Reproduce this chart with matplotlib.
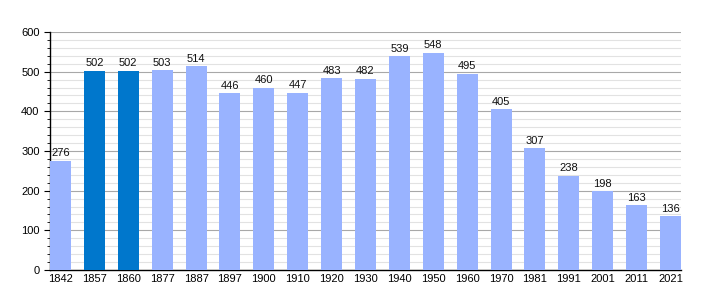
import matplotlib
matplotlib.use("Agg")
import matplotlib.pyplot as plt
from matplotlib.ticker import MultipleLocator

plt.rcParams["font.family"] = ["Liberation Sans", "DejaVu Sans"]

years = ["1842", "1857", "1860", "1877", "1887", "1897", "1900", "1910", "1920", "1930",
         "1940", "1950", "1960", "1970", "1981", "1991", "2001", "2011", "2021"]
population = [276, 502, 502, 503, 514, 446, 460, 447, 483, 482,
              539, 548, 495, 405, 307, 238, 198, 163, 136]
highlight = ["1857", "1860"]

light = "#99b3ff"
dark = "#0077cc"
colors = [dark if y in highlight else light for y in years]

fig = plt.figure(figsize=(7.1, 3.0), dpi=100)
ax = fig.add_axes([50/710, 30/300, 631/710, 238/300])
w = 0.62
x = list(range(len(years)))
ax.bar(x, population, width=w, color=colors, zorder=3)
for xi, v in zip(x, population):
    ax.text(xi, v + 6, str(v), ha="center", va="bottom", fontsize=8, color="#111111", zorder=4)

ax.set_xlim(-w/2, len(years) - 1 + w/2)
ax.set_ylim(0, 600)
ax.set_xticks(x)
ax.set_xticklabels(years, fontsize=8)
ax.yaxis.set_major_locator(MultipleLocator(100))
ax.yaxis.set_minor_locator(MultipleLocator(20))
ax.tick_params(axis="y", which="major", labelsize=8, length=4)
ax.tick_params(axis="y", which="minor", length=2)
ax.tick_params(axis="x", length=0, pad=3)
ax.grid(axis="y", which="major", color="#a8a8a8", linewidth=0.8, zorder=0)
ax.grid(axis="y", which="minor", color="#e2e2e2", linewidth=0.8, zorder=0)
for s in ["top", "right"]:
    ax.spines[s].set_visible(False)
ax.spines["left"].set_linewidth(1)
ax.spines["bottom"].set_linewidth(1)

fig.savefig("out.png", dpi=100)
